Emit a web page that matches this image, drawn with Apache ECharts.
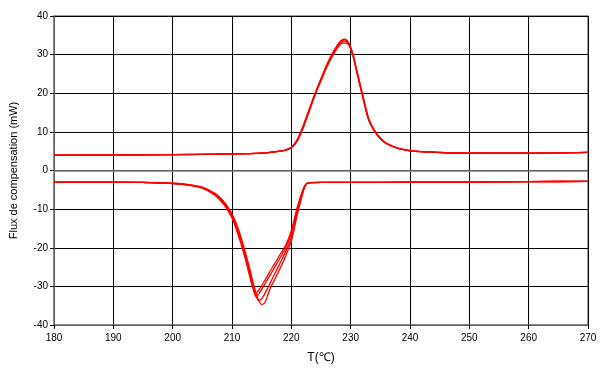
<!DOCTYPE html>
<html><head><meta charset="utf-8">
<script src="https://cdn.jsdelivr.net/npm/echarts@6/dist/echarts.min.js"></script>
<style>html,body{margin:0;padding:0;background:#fff}#c{width:606px;height:369px}</style>
</head><body><div id="c"></div>
<script>
// Heating runs (upper peak)
var heatT = [180,190,200,210,215,217,218,219,220,221,222,223,224,225,226,227,228,228.5,229,229.5,230,230.5,231,232,233,234,235,236,238,240,243,246,250,260,270];
var heat1 = [4.0,4.0,4.1,4.3,4.5,4.8,5.0,5.3,6.0,8.0,11.6,15.8,20.0,23.8,27.5,30.6,33.0,33.8,34.0,33.5,32.0,29.5,26.0,19.5,13.4,10.3,8.3,7.0,5.7,5.1,4.8,4.6,4.5,4.5,4.7];
var heat2 = [4.0,4.0,4.1,4.3,4.5,4.8,5.0,5.3,6.0,7.9,11.4,15.6,19.8,23.6,27.2,30.2,32.6,33.3,33.5,33.0,31.6,29.0,25.6,19.2,13.2,10.2,8.2,7.0,5.7,5.1,4.8,4.6,4.5,4.5,4.7];
var heat3 = [3.9,4.0,4.1,4.3,4.5,4.8,5.0,5.2,5.8,7.6,11.0,15.2,19.5,23.2,26.8,29.8,32.2,32.9,33.0,32.8,31.5,29.2,26.2,19.8,13.7,10.5,8.4,7.1,5.8,5.2,4.8,4.6,4.5,4.5,4.7];
var heat4 = [4.0,4.0,4.1,4.3,4.5,4.8,5.0,5.3,5.9,7.8,11.3,15.5,19.8,23.5,27.1,30.3,32.8,33.6,33.8,33.3,31.8,29.3,25.8,19.4,13.3,10.3,8.3,7.0,5.7,5.1,4.8,4.6,4.5,4.5,4.7];

// Cooling runs (lower dip)
var coolT = [180,190,195,200,203,205,207,208,209,210,211,212,213,213.5,214,214.5,215,215.5,216,216.5,217,218,219,220,221,222,222.5,223,225,230,240,250,260,270];
var cool1 = [-3.0,-3.0,-3.1,-3.3,-3.7,-4.3,-5.8,-7.0,-8.8,-11.2,-14.8,-19.8,-25.5,-28.6,-31.5,-33.6,-34.7,-34.3,-32.4,-30.3,-28.8,-25.7,-22.3,-18.3,-11.5,-5.5,-3.6,-3.2,-3.1,-3.1,-3.0,-3.0,-2.9,-2.8];
var cool2 = [-3.0,-3.0,-3.1,-3.4,-3.9,-4.6,-6.3,-7.7,-9.6,-12.3,-16.5,-21.5,-27.5,-30.3,-31.8,-31.0,-29.8,-28.5,-27.2,-25.9,-24.6,-22.0,-19.5,-15.5,-9.5,-4.8,-3.5,-3.2,-3.1,-3.1,-3.0,-3.0,-2.9,-2.8];
var cool3 = [-3.0,-3.0,-3.1,-3.3,-3.8,-4.4,-6.0,-7.2,-9.1,-11.6,-15.5,-20.5,-26.3,-29.5,-32.4,-33.7,-33.2,-32.0,-30.5,-28.9,-27.4,-24.3,-21.2,-17.3,-10.8,-5.2,-3.5,-3.2,-3.1,-3.1,-3.0,-3.0,-2.9,-2.8];
var cool4 = [-3.0,-3.0,-3.1,-3.4,-3.8,-4.5,-6.1,-7.4,-9.3,-12.0,-16.0,-21.0,-27.0,-30.2,-32.6,-32.0,-30.8,-29.5,-28.2,-26.9,-25.6,-22.9,-20.2,-16.3,-10.0,-5.0,-3.5,-3.2,-3.1,-3.1,-3.0,-3.0,-2.9,-2.8];

var xTicks = {min:180, max:270, interval:10};
var yTicks = {min:-40, max:40, interval:10};
var xTitle = 'T(\u2103)';
var yTitle = 'Flux de compensation (mW)';

function pairs(xs, ys){ return xs.map(function(x,i){ return [x, ys[i]]; }); }
var runs = [[heatT,heat1],[heatT,heat2],[heatT,heat3],[heatT,heat4],[coolT,cool1],[coolT,cool2],[coolT,cool3],[coolT,cool4]];
var series = runs.map(function(r, i){
  var s = {type:'line', data:pairs(r[0], r[1]), showSymbol:false, symbol:'none',
    smooth:0.25, lineStyle:{color:'#ff0000', width:1.3}, z:3, animation:false};
  if (i === 0) {
    s.markLine = {silent:true, symbol:'none', label:{show:false}, animation:false,
      lineStyle:{color:'#808080', width:1.5, type:'solid'}, data:[{yAxis:0}]};
  }
  return s;
});

var chart = echarts.init(document.getElementById('c'), null, {renderer:'canvas'});
chart.setOption({
  animation:false,
  backgroundColor:'#ffffff',
  grid:{left:53, right:18, top:16, bottom:42, show:true, borderColor:'#808080', borderWidth:1.5},
  xAxis:{type:'value', min:xTicks.min, max:xTicks.max, interval:xTicks.interval,
    name:xTitle, nameLocation:'middle', nameGap:27,
    nameTextStyle:{fontFamily:'Liberation Sans, Arial', fontSize:12, color:'#000'},
    axisLine:{onZero:false, lineStyle:{color:'#808080', width:1.5}},
    axisTick:{show:true, length:4, lineStyle:{color:'#000'}},
    axisLabel:{fontFamily:'Liberation Sans, Arial', fontSize:10, color:'#000', margin:8},
    splitLine:{show:true, lineStyle:{color:'#000', width:1}}},
  yAxis:{type:'value', min:yTicks.min, max:yTicks.max, interval:yTicks.interval,
    name:yTitle, nameLocation:'middle', nameGap:35, nameRotate:90,
    nameTextStyle:{fontFamily:'Liberation Sans, Arial', fontSize:11, color:'#000'},
    axisLine:{show:true, lineStyle:{color:'#808080', width:1.5}},
    axisTick:{show:true, length:4, lineStyle:{color:'#000'}},
    axisLabel:{fontFamily:'Liberation Sans, Arial', fontSize:10, color:'#000', margin:6},
    splitLine:{show:true, lineStyle:{color:'#000', width:1}}},
  series:series
});
</script>
</body></html>
